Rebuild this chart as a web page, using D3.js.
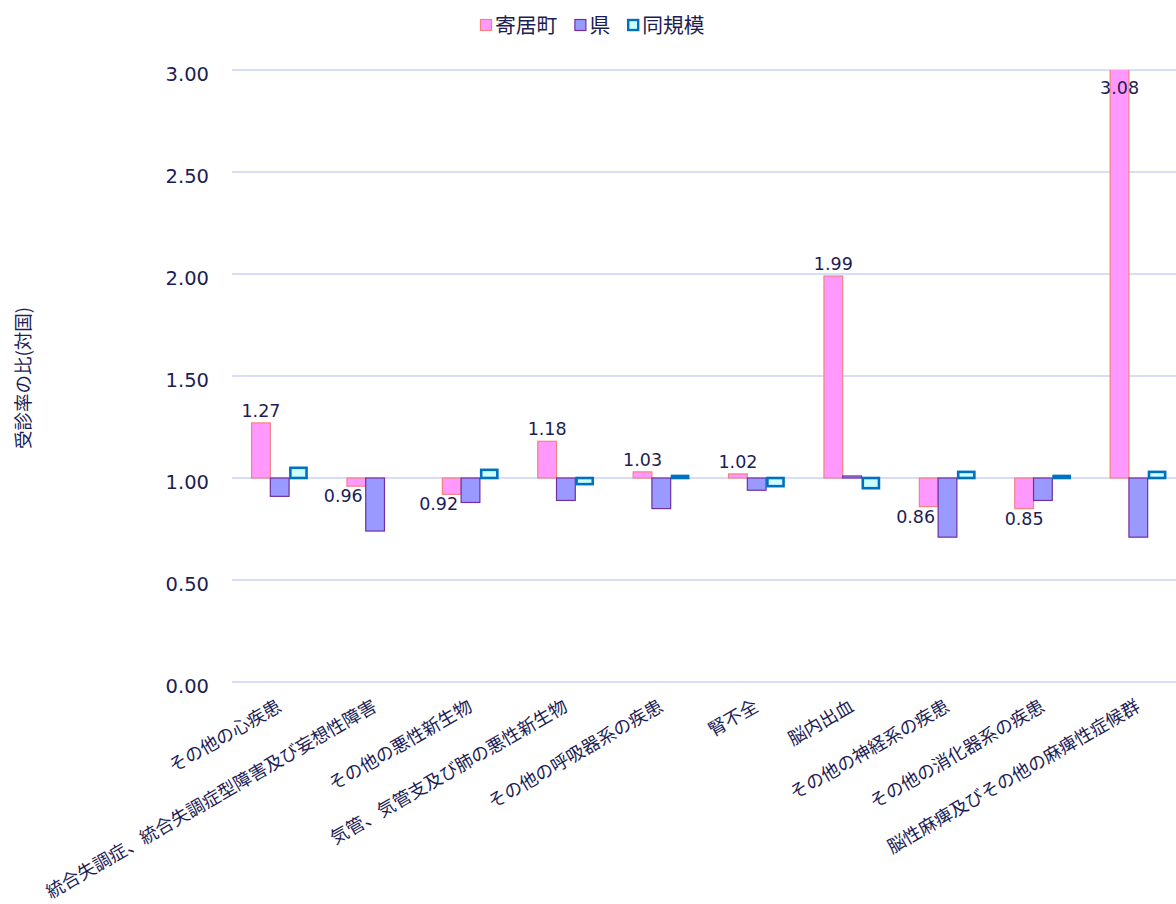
<!DOCTYPE html>
<html lang="ja">
<head>
<meta charset="utf-8">
<script src="https://cdn.jsdelivr.net/npm/d3@7"></script>
<style>
  html, body { margin: 0; padding: 0; background: #fff; }
  svg { display: block; }
</style>
</head>
<body>
<svg id="chart" width="1176" height="904"></svg>
<script>
// 受診率の比（対国）: 疾病別に寄居町・県・同規模を比較
const categories = [
  "その他の心疾患",
  "統合失調症、統合失調症型障害及び妄想性障害",
  "その他の悪性新生物",
  "気管、気管支及び肺の悪性新生物",
  "その他の呼吸器系の疾患",
  "腎不全",
  "脳内出血",
  "その他の神経系の疾患",
  "その他の消化器系の疾患",
  "脳性麻痺及びその他の麻痺性症候群"
];
const seriesNames = ["寄居町", "県", "同規模"];
const yorii   = [1.27, 0.96, 0.92, 1.18, 1.03, 1.02, 1.99, 0.86, 0.85, 3.08];
const ken     = [0.91, 0.74, 0.88, 0.89, 0.85, 0.94, 1.01, 0.71, 0.89, 0.71];
const doukibo = [1.05, 1.00, 1.04, 0.97, 1.01, 0.96, 0.95, 1.03, 1.01, 1.03];
const yTicks  = [0, 0.5, 1, 1.5, 2, 2.5, 3];
const yTitle  = "受診率の比(対国)";

const seriesValues = [yorii, ken, doukibo];
const styles = [
  { fill: "#FF99FF", stroke: "#F4837D", sw: 1.2 },
  { fill: "#9999FF", stroke: "#7030A0", sw: 1.2 },
  { fill: "#CCFFFF", stroke: "#0070C0", sw: 2.6 }
];
const textColor = "#1d1d55";
const gridColor = "#CDD2F4";
const latin = "'DejaVu Sans', Verdana, sans-serif";
const cjk = "'Noto Sans CJK JP', 'Noto Sans', sans-serif";

const svg = d3.select("#chart");
const W = 1176, H = 904;
const plot = { left: 232, right: 1186, top: 70, bottom: 682 };
const baseValue = 1;

const x0 = d3.scaleBand()
  .domain(categories)
  .range([plot.left, plot.right])
  .paddingInner(0.41)
  .paddingOuter(0.205);
const x1 = d3.scaleBand()
  .domain(seriesNames)
  .range([0, x0.bandwidth()]);
const y = d3.scaleLinear().domain([0, 3]).range([plot.bottom, plot.top]);

// clip for the plotting area (values beyond 3.00 are cut at the top)
svg.append("defs").append("clipPath").attr("id", "plotClip")
  .append("rect")
  .attr("x", plot.left).attr("y", plot.top)
  .attr("width", plot.right - plot.left).attr("height", plot.bottom - plot.top);

// gridlines
svg.append("g").selectAll("line").data(yTicks).join("line")
  .attr("x1", plot.left).attr("x2", W)
  .attr("y1", d => y(d)).attr("y2", d => y(d))
  .attr("stroke", gridColor).attr("stroke-width", 1.6);

// y-axis tick labels
svg.append("g").selectAll("text").data(yTicks).join("text")
  .attr("x", 209).attr("y", d => y(d) + 11)
  .attr("text-anchor", "end")
  .attr("font-family", latin).attr("font-size", 19.5)
  .attr("fill", textColor)
  .text(d => d3.format(".2f")(d));

// y-axis title
svg.append("text")
  .attr("transform", "translate(30,378) rotate(-90)")
  .attr("text-anchor", "middle")
  .attr("font-family", cjk).attr("font-size", 18.5)
  .attr("fill", textColor)
  .text(yTitle);

// bars, drawn from the 1.00 baseline
const bars = svg.append("g").attr("clip-path", "url(#plotClip)");
seriesNames.forEach((name, si) => {
  const st = styles[si];
  bars.append("g").selectAll("rect")
    .data(categories.map((c, i) => ({ c, v: seriesValues[si][i] })))
    .join("rect")
    .attr("x", d => x0(d.c) + x1(name) + (si === 2 ? st.sw / 2 : 0))
    .attr("width", x1.bandwidth() - (si === 2 ? st.sw : 0))
    .attr("y", d => y(Math.max(d.v, baseValue)))
    .attr("height", d => Math.abs(y(d.v) - y(baseValue)))
    .attr("fill", st.fill)
    .attr("stroke", st.stroke)
    .attr("stroke-width", st.sw);
});

// value labels for 寄居町
const lbl = svg.append("g")
  .attr("font-family", latin).attr("font-size", 17.5)
  .attr("fill", textColor).attr("text-anchor", "middle");
categories.forEach((c, i) => {
  const v = yorii[i];
  const cx = x0(c) + x1(seriesNames[0]) + x1.bandwidth() / 2;
  const t = lbl.append("text").text(d3.format(".2f")(v));
  if (v > y.domain()[1]) {
    t.attr("x", cx).attr("y", y(y.domain()[1]) + 24);
  } else if (v >= baseValue) {
    t.attr("x", cx).attr("y", y(v) - 6);
  } else {
    const ly = y(v) + 16;
    let lx = cx;
    // keep the label clear of the neighbouring 県 bar
    const kenBottom = y(ken[i]);
    if (kenBottom > ly - 13) {
      const w = t.node().getComputedTextLength();
      lx = x0(c) + x1(seriesNames[1]) - 3 - w / 2;
    }
    t.attr("x", lx).attr("y", ly);
  }
});

// category labels, rotated
svg.append("g").selectAll("text").data(categories).join("text")
  .attr("transform", d => `translate(${x0(d) + x0.bandwidth() / 2 + 3},710) rotate(-30)`)
  .attr("text-anchor", "end")
  .attr("font-family", cjk).attr("font-size", 18)
  .attr("fill", textColor)
  .text(d => d);

// legend
const legend = svg.append("g").attr("font-family", cjk).attr("font-size", 20.8).attr("fill", textColor);
let lx = 480;
seriesNames.forEach((name, si) => {
  const st = styles[si];
  const inset = si === 2 ? 1 : 0.5;
  legend.append("rect")
    .attr("x", lx + inset).attr("y", 19 + inset)
    .attr("width", 12 - 2 * inset).attr("height", 12 - 2 * inset)
    .attr("fill", st.fill).attr("stroke", st.stroke)
    .attr("stroke-width", si === 2 ? 2.4 : 1.2);
  const t = legend.append("text").attr("x", lx + 15).attr("y", 32.5).text(name);
  lx += 15 + t.node().getComputedTextLength() + 17;
});
</script>
</body>
</html>
